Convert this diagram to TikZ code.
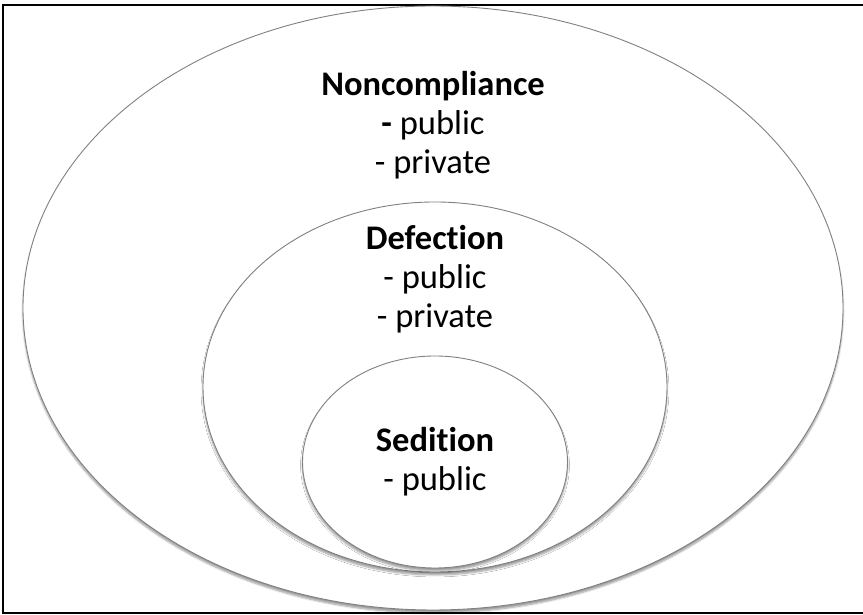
\documentclass[tikz,border=0pt]{standalone}
\usepackage{fontspec}
\setmainfont{Carlito}[Ligatures=NoCommon]
\usetikzlibrary{shapes.geometric,positioning,shadows.blur}

\tikzset{
  ring/.style={ellipse,draw=black!50,line width=0.9pt,fill=white,inner sep=0pt,
    blur shadow={shadow xshift=0pt,shadow yshift=-3pt,shadow blur steps=6,shadow opacity=40}},
  ringtext/.style={align=center,inner sep=0pt,font=\fontsize{34.5}{39}\selectfont}
}

\begin{document}
\begin{tikzpicture}[x=1pt,y=1pt]
\useasboundingbox (0,0) rectangle (863,615);
\draw[line width=1.6pt] (3,2) rectangle (868,610);

\node[ring,minimum width=820pt,minimum height=604pt] (noncomp) at (433,307) {};
\node[ring,minimum width=464pt,minimum height=370pt] (defect) at (435,228) {};
\node[ring,minimum width=265pt,minimum height=212pt] (sedit) at (435,153) {};

\node[ringtext,below=66pt of noncomp.north] (noncomptxt)
  {\textbf{Noncompliance}\\\textbf{-} public\\- private};
\node[ringtext,below=24pt of defect.north] (defecttxt)
  {\textbf{Defection}\\- public\\- private};
\node[ringtext,below=72pt of sedit.north] (sedittxt)
  {\textbf{Sedition}\\- public};
\end{tikzpicture}
\end{document}
